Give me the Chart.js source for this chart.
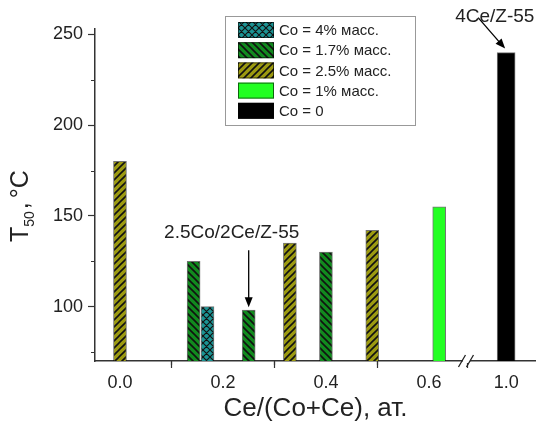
<!DOCTYPE html>
<html>
<head>
<meta charset="utf-8">
<script src="https://cdn.jsdelivr.net/npm/chart.js@4/dist/chart.umd.min.js"></script>
<style>
html, body { margin: 0; padding: 0; background: #fff; }
</style>
</head>
<body>
<canvas id="grafico" width="536" height="421"></canvas>
<script>
// series labels (legend order)
const seriesLabels = ['Co = 4% масс.', 'Co = 1.7% масс.', 'Co = 2.5% масс.', 'Co = 1% масс.', 'Co = 0'];

// Ce/(Co+Ce) positions and T50 values per series
const co4X = [0.17];
const co4Y = [100];
const co17X = [0.143, 0.25, 0.4];
const co17Y = [125, 98, 130];
const co25X = [0.0, 0.33, 0.49];
const co25Y = [180, 135, 142];
const co1X = [0.62];
const co1Y = [155];
const co0X = [1.0];
const co0Y = [240];

// ticks
const xMajorTicks = [0.0, 0.2, 0.4, 0.6, 1.0];
const xMinorTicks = [0.1, 0.3, 0.5];
const yMajorTicks = [100, 150, 200, 250];
const yMinorTicks = [75, 125, 175, 225];

const xTitle = 'Ce/(Co+Ce), ат.';
const notes = [
    { text: '2.5Co/2Ce/Z-55', x: 0.25, y: 98 },
    { text: '4Ce/Z-55', x: 1.0, y: 240 }
];

// broken x axis: everything past 0.7 is pulled left by 0.25
const BREAK_FROM = 0.7;
const BREAK_SHIFT = 0.25;
function pos(x) {
    return x > BREAK_FROM ? x - BREAK_SHIFT : x;
}

const FONT = '"Liberation Sans", Arial, sans-serif';
const TEXT = '#222';

function hatch(bg, kind) {
    const s = 7;
    const c = document.createElement('canvas');
    c.width = s; c.height = s;
    const g = c.getContext('2d');
    g.fillStyle = bg;
    g.fillRect(0, 0, s, s);
    g.strokeStyle = '#111';
    g.lineWidth = kind === 'cross' ? 1.1 : 1.6;
    g.beginPath();
    if (kind === 'fwd' || kind === 'cross') {
        g.moveTo(0, s); g.lineTo(s, 0);
        g.moveTo(-1, 1); g.lineTo(1, -1);
        g.moveTo(s - 1, s + 1); g.lineTo(s + 1, s - 1);
    }
    if (kind === 'back' || kind === 'cross') {
        g.moveTo(0, 0); g.lineTo(s, s);
        g.moveTo(-1, s - 1); g.lineTo(1, s + 1);
        g.moveTo(s - 1, -1); g.lineTo(s + 1, 1);
    }
    g.stroke();
    return g.createPattern(c, 'repeat');
}

const fills = [
    hatch('#1b9393', 'cross'),
    hatch('#118a1e', 'back'),
    hatch('#9c9a10', 'fwd'),
    '#22ff22',
    '#000000'
];

function puntos(xs, ys) {
    return xs.map((x, i) => ({ x: pos(x), y: ys[i] }));
}

const seriesData = [
    puntos(co4X, co4Y),
    puntos(co17X, co17Y),
    puntos(co25X, co25Y),
    puntos(co1X, co1Y),
    puntos(co0X, co0Y)
];

const datasets = seriesData.map((d, i) => ({
    label: seriesLabels[i],
    data: d,
    backgroundColor: fills[i],
    borderColor: 'rgba(0,0,0,0.55)',
    borderWidth: 1,
    grouped: false,
    barThickness: i === 4 ? 18 : 13
}));

function drawArrow(ctx, x1, y1, x2, y2) {
    const a = Math.atan2(y2 - y1, x2 - x1);
    const h = 10, w = 4;
    ctx.beginPath();
    ctx.moveTo(x1, y1);
    ctx.lineTo(x2 - Math.cos(a) * h * 0.8, y2 - Math.sin(a) * h * 0.8);
    ctx.stroke();
    ctx.beginPath();
    ctx.moveTo(x2, y2);
    ctx.lineTo(x2 - Math.cos(a) * h - Math.sin(a) * w, y2 - Math.sin(a) * h + Math.cos(a) * w);
    ctx.lineTo(x2 - Math.cos(a) * h + Math.sin(a) * w, y2 - Math.sin(a) * h - Math.cos(a) * w);
    ctx.closePath();
    ctx.fill();
}

const extras = {
    id: 'extras',
    afterDraw(chart) {
        const ctx = chart.ctx;
        const xs = chart.scales.x, ys = chart.scales.y;
        const area = chart.chartArea;
        ctx.save();

        // minor ticks
        ctx.strokeStyle = '#333';
        ctx.lineWidth = 1.2;
        ctx.beginPath();
        yMinorTicks.forEach(v => {
            const y = Math.round(ys.getPixelForValue(v)) + 0.5;
            ctx.moveTo(area.left - 4, y); ctx.lineTo(area.left, y);
        });
        xMinorTicks.forEach(v => {
            const x = Math.round(xs.getPixelForValue(pos(v))) + 0.5;
            ctx.moveTo(x, area.bottom); ctx.lineTo(x, area.bottom + 4);
        });
        ctx.stroke();

        // axis break
        const bx = xs.getPixelForValue(0.672);
        ctx.fillStyle = '#fff';
        ctx.fillRect(bx - 3, area.bottom - 2, 7, 4);
        ctx.beginPath();
        [-4, 4].forEach(d => {
            ctx.moveTo(bx + d - 3.5, area.bottom + 6);
            ctx.lineTo(bx + d + 3.5, area.bottom - 6);
        });
        ctx.strokeStyle = '#222';
        ctx.lineWidth = 1.3;
        ctx.stroke();

        // annotations
        ctx.strokeStyle = '#000';
        ctx.fillStyle = '#000';
        ctx.lineWidth = 1.3;
        ctx.font = '19px ' + FONT;
        ctx.textBaseline = 'middle';
        let n = notes[0];
        let tx = xs.getPixelForValue(pos(n.x)), ty = ys.getPixelForValue(n.y) - 3;
        drawArrow(ctx, tx, ty - 57, tx, ty);
        ctx.fillStyle = TEXT;
        ctx.textAlign = 'center';
        ctx.fillText(n.text, tx - 17, ty - 74);
        n = notes[1];
        tx = xs.getPixelForValue(pos(n.x)) - 1; ty = ys.getPixelForValue(n.y) - 4;
        ctx.fillStyle = '#000';
        drawArrow(ctx, tx - 27, ty - 31, tx, ty);
        ctx.fillStyle = TEXT;
        ctx.textAlign = 'left';
        ctx.fillText(n.text, tx - 50, ty - 32);

        // y title with subscript
        ctx.save();
        ctx.translate(28, 242);
        ctx.rotate(-Math.PI / 2);
        ctx.textAlign = 'left';
        ctx.textBaseline = 'alphabetic';
        ctx.font = '25px ' + FONT;
        ctx.fillText('T', 0, 0);
        let w = ctx.measureText('T').width;
        ctx.font = '14px ' + FONT;
        ctx.fillText('50', w, 6);
        w += ctx.measureText('50').width + 2;
        ctx.font = '25px ' + FONT;
        ctx.fillText(',', w, 0);
        w += ctx.measureText(',').width + 4;
        ctx.fillText('°C', w, 0);
        ctx.restore();

        // legend
        const lx = 225, ly = 16, lw = 190, lh = 109;
        ctx.fillStyle = '#fff';
        ctx.fillRect(lx, ly, lw, lh);
        ctx.strokeStyle = '#999';
        ctx.lineWidth = 1;
        ctx.strokeRect(lx + 0.5, ly + 0.5, lw, lh);
        ctx.font = '15px ' + FONT;
        ctx.textAlign = 'left';
        ctx.textBaseline = 'middle';
        chart.data.datasets.forEach((ds, i) => {
            const cy = ly + 14 + i * 20.2;
            ctx.fillStyle = ds.backgroundColor;
            ctx.fillRect(lx + 13, cy - 8, 36, 16);
            ctx.strokeStyle = 'rgba(0,0,0,0.6)';
            ctx.strokeRect(lx + 13.5, cy - 7.5, 35, 15);
            ctx.fillStyle = TEXT;
            ctx.fillText(ds.label, lx + 54, cy + 1);
        });
        ctx.restore();
    }
};

const grafico = new Chart(document.getElementById('grafico').getContext('2d'), {
    type: 'bar',
    data: { datasets: datasets },
    options: {
        responsive: false,
        animation: false,
        layout: { padding: { top: 29, right: 0, left: 0, bottom: 0 } },
        plugins: { legend: { display: false }, tooltip: { enabled: false } },
        scales: {
            x: {
                type: 'linear',
                offset: false,
                min: -0.0485,
                max: 0.808,
                afterFit: s => { s.height = 60; },
                afterBuildTicks: s => { s.ticks = xMajorTicks.map(v => ({ value: pos(v) })); },
                ticks: {
                    color: TEXT,
                    font: { family: FONT, size: 18 },
                    padding: 4,
                    maxRotation: 0,
                    autoSkip: false,
                    callback: value => {
                        const t = xMajorTicks.find(v => Math.abs(pos(v) - value) < 1e-6);
                        return t === undefined ? '' : t.toFixed(1);
                    }
                },
                grid: { drawOnChartArea: false, drawTicks: true, tickLength: 7, tickColor: '#333', tickWidth: 1.2 },
                border: { display: true, color: '#333', width: 1.5 },
                title: {
                    display: true,
                    text: xTitle,
                    color: TEXT,
                    font: { family: FONT, size: 26 },
                    padding: { top: 0, bottom: -3 }
                }
            },
            y: {
                min: 70,
                max: 253,
                afterFit: s => { s.width = 95; },
                afterBuildTicks: s => { s.ticks = yMajorTicks.map(v => ({ value: v })); },
                ticks: {
                    color: TEXT,
                    font: { family: FONT, size: 18 },
                    padding: 5
                },
                grid: { drawOnChartArea: false, drawTicks: true, tickLength: 7, tickColor: '#333', tickWidth: 1.2 },
                border: { display: true, color: '#333', width: 1.5 }
            }
        }
    },
    plugins: [extras]
});
</script>
</body>
</html>
